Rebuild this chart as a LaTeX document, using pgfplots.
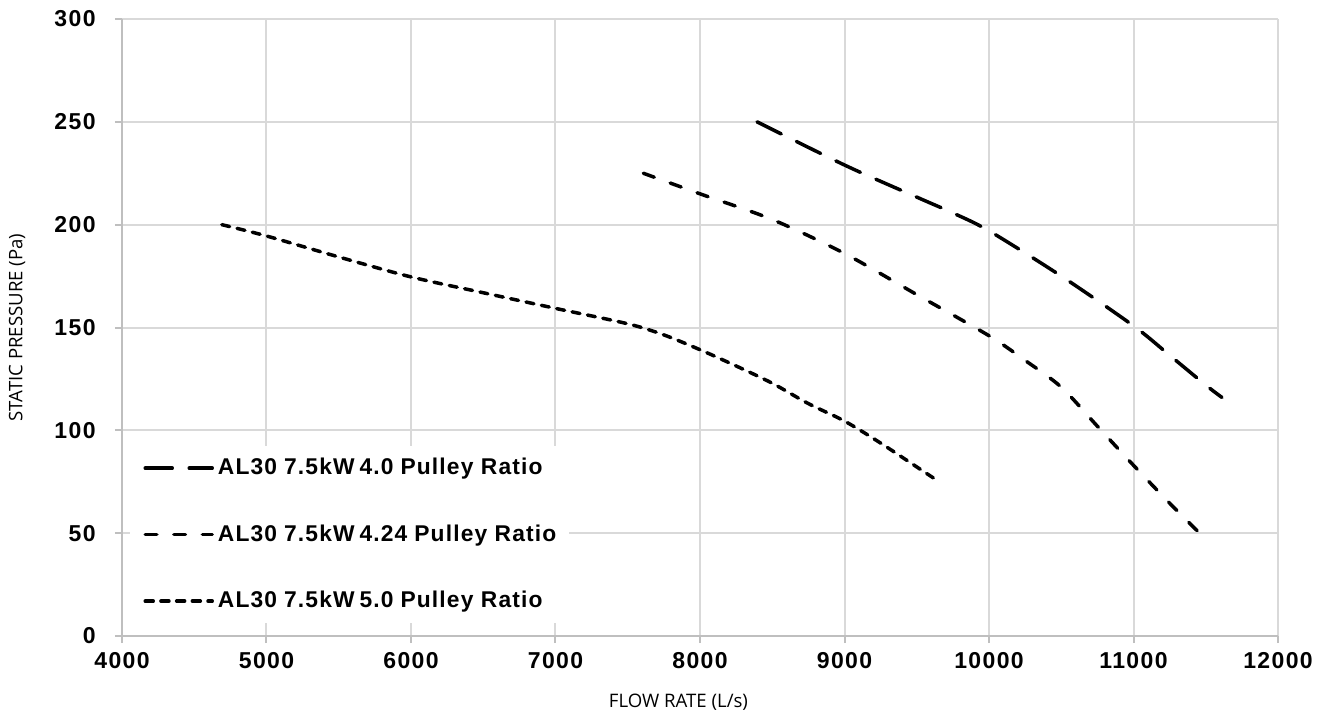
\documentclass[border=0pt]{standalone}
\usepackage{fontspec}
\setmainfont{Liberation Sans}
\newfontfamily\tickfont[LetterSpace=6]{Liberation Sans}
\newfontfamily\legfont[LetterSpace=5]{Liberation Sans}
\newfontfamily\labelfont{Open Sans}
\usepackage{pgfplots}
\pgfplotsset{compat=1.18}
\definecolor{gridc}{HTML}{D9D9D9}
\definecolor{axisc}{HTML}{BFBFBF}
\begin{document}
\begin{tikzpicture}
\path[use as bounding box] (-61pt,-43.5pt) rectangle (604.5pt,318pt);
\begin{axis}[
  scale only axis, width=578pt, height=308.5pt,
  xmin=4000, xmax=12000, ymin=0, ymax=300,
  xtick={4000,5000,...,12000}, ytick={0,50,...,300},
  /pgf/number format/assume math mode=true,
  /pgf/number format/1000 sep={},
  scaled x ticks=false,
  grid=major,
  major grid style={draw=gridc, line width=1pt},
  axis x line*=bottom, axis y line*=left,
  axis line style={draw=axisc, line width=1pt, -},
  tick style={draw=axisc, line width=1pt},
  tick align=outside, major tick length=3.5pt,
  tick label style={font=\fontsize{11.5}{13}\selectfont\tickfont\bfseries},
  yticklabel style={anchor=east, inner sep=0pt, xshift=-9.5pt},
  xticklabel style={anchor=north, inner sep=0pt, yshift=-4.5pt},
  xlabel={FLOW RATE (L/s)}, ylabel={STATIC PRESSURE (Pa)},
  every axis x label/.style={at={(axis description cs:0.4814,-0.107)}, anchor=center, font=\fontsize{9.3}{11}\selectfont\labelfont},
  every axis y label/.style={at={(axis description cs:-0.0908,0.5)}, rotate=90, anchor=center, font=\fontsize{9.3}{11}\selectfont\labelfont},
  legend cell align=left,
  legend style={at={(0.007,0.308)}, anchor=north west, draw=none, fill=white,
    inner xsep=6.5pt, inner ysep=6pt, row sep=23.5pt, column sep=2pt,
    nodes={inner sep=0pt},
    font=\fontsize{11.4}{13}\selectfont\legfont\bfseries},
  legend image code/.code={\draw[#1] (0pt,0pt) -- (33.5pt,0pt);},
  every axis plot/.append style={line width=1.75pt, line cap=round, black, smooth},
]
\addplot[dash pattern=on 13.5pt off 8.5pt] coordinates {
(8395,250) (9000,229) (9500,213.4) (9750,205.7) (10000,197) (10500,175)
(11000,150.8) (11250,136.5) (11500,122) (11612,116)};
\addlegendentry{AL30\hspace{3.5pt}7.5kW\hspace{2.5pt}4.0\hspace{3.5pt}Pulley Ratio}
\addplot[dash pattern=on 5.8pt off 8.5pt] coordinates {
(7608,225) (8000,215) (8500,202.5) (9000,186) (9500,166) (10000,146)
(10250,134) (10500,121) (10750,102) (11000,83) (11250,64.6) (11458,50)};
\addlegendentry{AL30\hspace{3.5pt}7.5kW\hspace{2.5pt}4.24\hspace{3.5pt}Pulley Ratio}
\addplot[dash pattern=on 4pt off 3.85pt] coordinates {
(4691,200) (5000,194.5) (5500,184.3) (6000,174.6) (6500,166.9) (7000,159.3)
(7500,151.8) (7750,146.4) (8000,139.2) (8250,131.3) (8500,122.9) (8750,113)
(9000,104.5) (9250,93.8) (9650,75.2)};
\addlegendentry{AL30\hspace{3.5pt}7.5kW\hspace{2.5pt}5.0\hspace{3.5pt}Pulley Ratio}
\end{axis}
\end{tikzpicture}
\end{document}
